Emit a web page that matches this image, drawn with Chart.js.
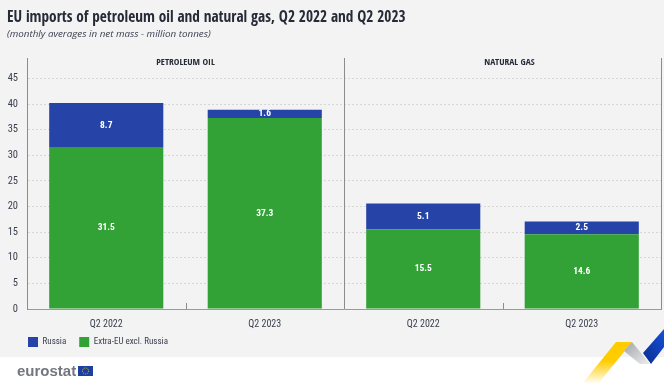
<!DOCTYPE html>
<html>
<head>
<meta charset="utf-8">
<script src="https://cdn.jsdelivr.net/npm/chart.js@4"></script>
<style>
  html, body { margin: 0; padding: 0; background: #fff; overflow: hidden; }
  #page { position: relative; width: 664px; height: 384px; }
  #panel { position: absolute; left: 0; top: 0; width: 664px; height: 357px; background: #f3f3f3; }
  #wrap { position: absolute; left: 0; top: 0; width: 664px; height: 384px; }
  h1 { position: absolute; left: 7px; top: 4px; margin: 0; font: bold 16.5px "Open Sans Condensed", sans-serif; color: #262b38; white-space: nowrap; transform: scaleX(0.928); transform-origin: left; }
  h2 { position: absolute; left: 7px; top: 27px; margin: 0; font: italic 9.8px "Open Sans", sans-serif; color: #3c4150; white-space: nowrap; }
  #logo { position: absolute; left: 17px; top: 362px; font: bold 15px "Liberation Sans", sans-serif; color: #74767f; white-space: nowrap; }
  svg { position: absolute; left: 0; top: 0; }
</style>
</head>
<body>
<div id="page">
  <div id="panel"></div>
  <div id="wrap"><canvas id="importsChart"></canvas></div>
  <h1>EU imports of petroleum oil and natural gas, Q2 2022 and Q2 2023</h1>
  <h2>(monthly averages in net mass - million tonnes)</h2>
  <div id="logo">eurostat</div>
  <svg width="664" height="384">
    <defs>
      <linearGradient id="yellow" x1="0" y1="0" x2="0" y2="1">
        <stop offset="0.45" stop-color="#ffcc00"/><stop offset="1" stop-color="#ffffff"/>
      </linearGradient>
      <linearGradient id="grey" x1="0" y1="0" x2="1" y2="1">
        <stop offset="0.1" stop-color="#a9abb0"/><stop offset="1" stop-color="#eeeeee"/>
      </linearGradient>
      <linearGradient id="blue" x1="1" y1="0" x2="0" y2="1">
        <stop offset="0" stop-color="#1550d8"/><stop offset="1" stop-color="#0b2d8f"/>
      </linearGradient>
    </defs>
    <polygon points="616,342 632,342 598,384 582,384" fill="url(#yellow)"/>
    <polygon points="632,342 650,364 640,364 624,351" fill="url(#grey)"/>
    <polygon points="664,329 664,347 651,364 643,353" fill="url(#blue)"/>
    <rect x="78" y="366" width="15" height="10" fill="#1d3f9e"/>
    <circle cx="85.5" cy="371" r="3" fill="none" stroke="#f5c800" stroke-width="1" stroke-dasharray="1 1"/>
  </svg>
</div>
<script>
const categories = ['Q2 2022', 'Q2 2023', 'Q2 2022', 'Q2 2023'];
const extraEu = [31.5, 37.3, 15.5, 14.6];
const russia = [8.7, 1.6, 5.1, 2.5];
const sections = ['PETROLEUM OIL', 'NATURAL GAS'];

const narrow = '"Roboto Condensed", sans-serif';
const narrowBold = '"Open Sans Condensed", sans-serif';

// section dividers, small ticks, section headings and values inside the bars
const panelPlugin = {
  id: 'panels',
  beforeDraw(chart) {
    // legend starts under the axis and sits tight under the x labels
    chart.legend.left = 15;
    chart.legend.top = 324;
  },
  afterDatasetsDraw(chart) {
    const { ctx, chartArea, scales } = chart;
    const x = scales.x;
    const step = x.getPixelForValue(1) - x.getPixelForValue(0);
    ctx.save();
    ctx.strokeStyle = '#8c8c8c';
    ctx.lineWidth = 1;
    [x.getPixelForValue(1) + step / 2, chartArea.right].forEach(px => {
      const p = Math.round(px) + 0.5;
      ctx.beginPath();
      ctx.moveTo(p, chartArea.top);
      ctx.lineTo(p, chartArea.bottom);
      ctx.stroke();
    });
    [0, 2].forEach(i => {
      const p = Math.round(x.getPixelForValue(i) + step / 2) + 0.5;
      ctx.beginPath();
      ctx.moveTo(p, chartArea.bottom - 6);
      ctx.lineTo(p, chartArea.bottom);
      ctx.stroke();
    });
    ctx.textAlign = 'center';
    ctx.textBaseline = 'middle';
    ctx.fillStyle = '#262b38';
    ctx.font = 'bold 9.5px ' + narrowBold;
    sections.forEach((s, i) => {
      // the gas heading sits a little right of its panel centre in the original
      ctx.fillText(s, x.getPixelForValue(i * 2) + step / 2 + (i === 1 ? 7 : 0), chartArea.top + 5);
    });
    ctx.fillStyle = '#ffffff';
    ctx.font = 'bold 9.5px ' + narrow;
    chart.data.datasets.forEach((ds, d) => {
      chart.getDatasetMeta(d).data.forEach((bar, i) => {
        ctx.fillText(ds.data[i].toFixed(1), bar.x, (bar.y + bar.base) / 2);
      });
    });
    ctx.restore();
  }
};

new Chart(document.getElementById('importsChart'), {
  type: 'bar',
  data: {
    labels: categories,
    datasets: [
      { label: 'Extra-EU excl. Russia', data: extraEu, backgroundColor: '#32a236' },
      { label: 'Russia', data: russia, backgroundColor: '#2644a7' }
    ]
  },
  options: {
    responsive: true,
    maintainAspectRatio: false,
    animation: false,
    barPercentage: 0.72,
    categoryPercentage: 1,
    layout: { padding: { top: 58, right: 3, left: 0, bottom: 12 } },
    plugins: {
      tooltip: { enabled: false },
      legend: {
        position: 'bottom',
        align: 'start',
        reverse: true,
        labels: {
          boxWidth: 10,
          boxHeight: 10,
          padding: 13,
          color: '#3c4150',
          font: { family: narrow, size: 9 }
        }
      }
    },
    scales: {
      x: {
        stacked: true,
        afterFit(scale) { scale.height = 30; },
        grid: { display: false },
        border: { color: '#9a9a9a' },
        ticks: { color: '#3c4150', padding: 1, font: { family: narrow, size: 10 } }
      },
      y: {
        stacked: true,
        min: 0,
        max: 49,
        afterFit(scale) { scale.width = 27; },
        afterBuildTicks(scale) { scale.ticks = scale.ticks.filter(t => t.value % 5 === 0); },
        grid: { color: '#d6d6d6', drawTicks: false },
        border: { color: '#8c8c8c', dash: [2, 2] },
        ticks: { stepSize: 5, color: '#3c4150', padding: 9, font: { family: narrow, size: 10.5 } }
      }
    }
  },
  plugins: [panelPlugin]
});
</script>
</body>
</html>
